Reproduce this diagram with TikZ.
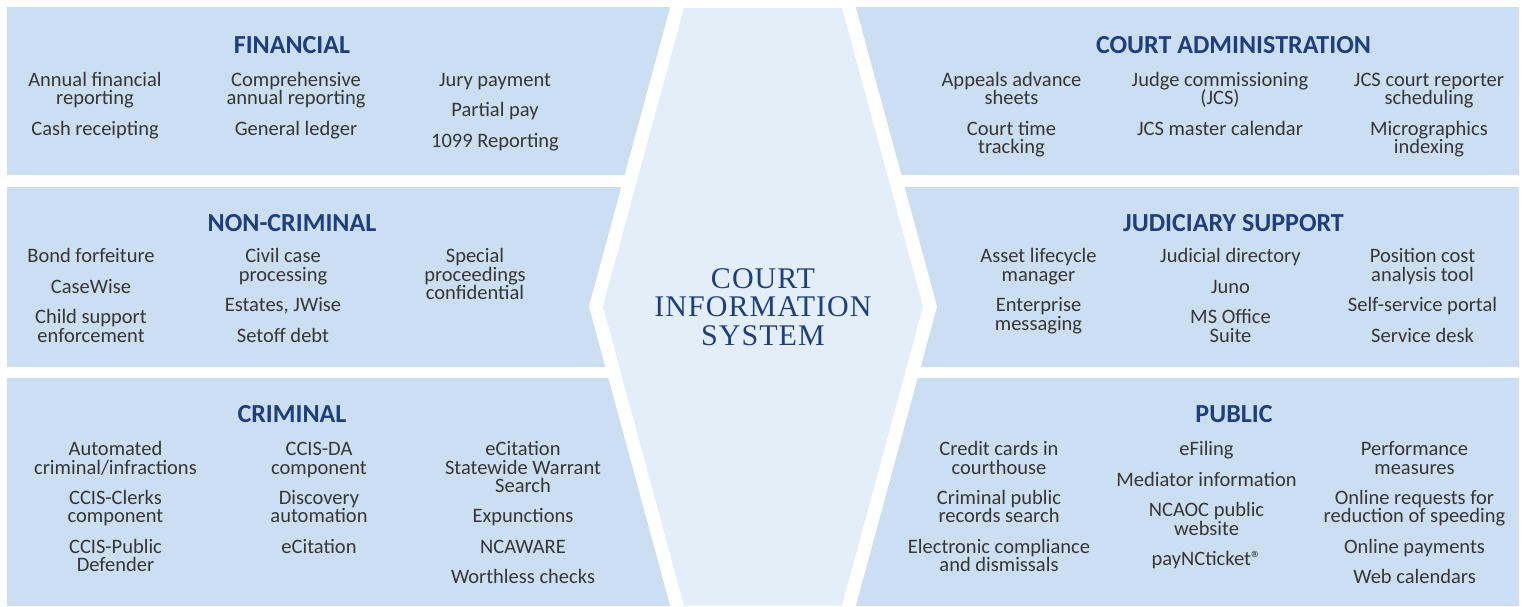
\documentclass[tikz,border=0pt]{standalone}
\usepackage{fontspec}
\setmainfont{Carlito}
\newfontfamily\cisfont[LetterSpace=3.5]{Liberation Serif}
\definecolor{panelblue}{HTML}{CCDEF2}
\definecolor{hexblue}{HTML}{E3EEF8}
\definecolor{headblue}{HTML}{1F3E7C}
\definecolor{itemgray}{HTML}{363636}
\tikzset{
	panel/.style={draw=none, fill=panelblue},
	grouptitle/.style={anchor=base, inner sep=0pt, text=headblue,
		font=\fontsize{26}{30}\selectfont\bfseries},
	itemcol/.style={anchor=north, inner sep=0pt, align=center, text=itemgray,
		font=\fontsize{20.5}{18.3}\selectfont},
}
\newcommand{\itemgap}{\\[12.2pt]}
\newcommand{\topstrut}{\rule{0pt}{16pt}}
\newcommand{\regmark}{\textregistered}
\begin{document}
\setlength{\lineskiplimit}{-100pt}
\begin{tikzpicture}[x=1pt, y=-1pt]
				\useasboundingbox (0,0) rectangle (1523,606);
				\fill[white] (0,0) rectangle (1523,606);
				\foreach \ytop/\ybot in {7/175, 187/367, 378/606} {
					\draw[panel] (7,\ytop) rectangle (1519,\ybot);
				}
				% gap round the hexagon
				\fill[white] (673.5,-5) -- (589,306.5) -- (671.6,611) -- (854.4,611) -- (937,306.5) -- (852.5,-5) -- cycle;
				\draw[draw=none, fill=hexblue] (684,8) -- (603,306.5) -- (684,605.5) -- (842,605.5) -- (923,306.5) -- (842,8) -- cycle;
				\node[anchor=north, inner sep=0pt, align=center, text=headblue,
					font=\cisfont\fontsize{30}{28.5}\selectfont]
					(cis) at (763,266) {\rule{0pt}{22pt}COURT\\INFORMATION\\SYSTEM};
				% top row
				\node[grouptitle] (fintitle) at (292,53.3) {FINANCIAL};
				\node[itemcol] (fina) at (95,70) {\topstrut Annual financial\\reporting\itemgap Cash receipting};
				\node[itemcol] (finb) at (296,70) {\topstrut Comprehensive\\annual reporting\itemgap General ledger};
				\node[itemcol] (finc) at (495,70) {\topstrut Jury payment\itemgap Partial pay\itemgap 1099 Reporting};
				\node[grouptitle] (admtitle) at (1233.5,53.3) {COURT ADMINISTRATION};
				\node[itemcol] (adma) at (1011.5,70) {\topstrut Appeals advance\\sheets\itemgap Court time\\tracking};
				\node[itemcol] (admb) at (1220,70) {\topstrut Judge commissioning\\(JCS)\itemgap JCS master calendar};
				\node[itemcol] (admc) at (1429,70) {\topstrut JCS court reporter\\scheduling\itemgap Micrographics\\indexing};
				% middle row
				\node[grouptitle] (ncrtitle) at (292,231) {NON-CRIMINAL};
				\node[itemcol] (ncra) at (91,246.7) {\topstrut Bond forfeiture\itemgap CaseWise\itemgap Child support\\enforcement};
				\node[itemcol] (ncrb) at (283,246.7) {\topstrut Civil case\\processing\itemgap Estates, JWise\itemgap Setoff debt};
				\node[itemcol] (ncrc) at (475,246.7) {\topstrut Special\\proceedings\\confidential};
				\node[grouptitle] (judtitle) at (1233.5,231) {JUDICIARY SUPPORT};
				\node[itemcol] (juda) at (1038.5,246.7) {\topstrut Asset lifecycle\\manager\itemgap Enterprise\\messaging};
				\node[itemcol] (judb) at (1230.5,246.7) {\topstrut Judicial directory\itemgap Juno\itemgap MS Office\\Suite};
				\node[itemcol] (judc) at (1422.5,246.7) {\topstrut Position cost\\analysis tool\itemgap Self-service portal\itemgap Service desk};
				% bottom row
				\node[grouptitle] (crititle) at (292,422.3) {CRIMINAL};
				\node[itemcol] (cria) at (115.5,439.5) {\topstrut Automated\\criminal/infractions\itemgap CCIS-Clerks\\component\itemgap CCIS-Public\\Defender};
				\node[itemcol] (crib) at (319,439.5) {\topstrut CCIS-DA\\component\itemgap Discovery\\automation\itemgap eCitation};
				\node[itemcol] (cric) at (523,439.5) {\topstrut eCitation\\Statewide Warrant\\Search\itemgap Expunctions\itemgap NCAWARE\itemgap Worthless checks};
				\node[grouptitle] (pubtitle) at (1234,422.3) {PUBLIC};
				\node[itemcol] (puba) at (999,439.5) {\topstrut Credit cards in\\courthouse\itemgap Criminal public\\records search\itemgap Electronic compliance\\and dismissals};
				\node[itemcol] (pubb) at (1206.5,439.5) {\topstrut eFiling\itemgap Mediator information\itemgap NCAOC public\\website\itemgap payNCticket\regmark};
				\node[itemcol] (pubc) at (1414.5,439.5) {\topstrut Performance\\measures\itemgap Online requests for\\reduction of speeding\itemgap Online payments\itemgap Web calendars};
			\end{tikzpicture}
\end{document}
